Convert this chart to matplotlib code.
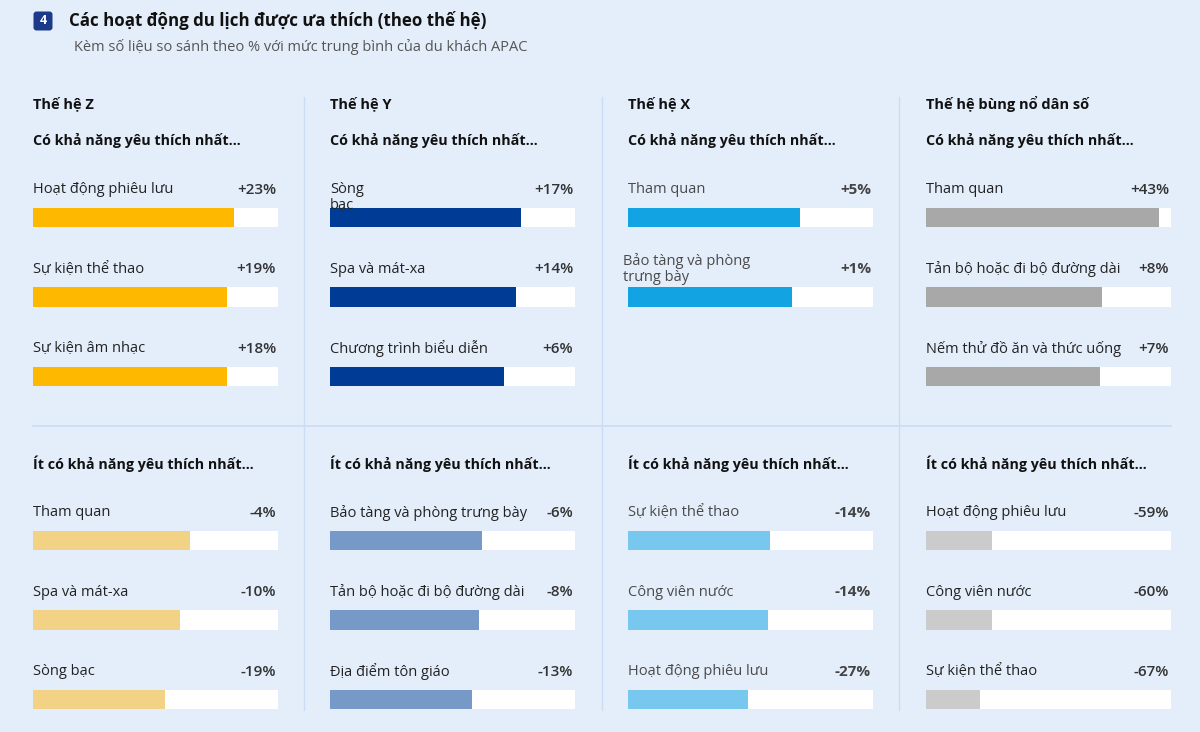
import matplotlib.pyplot as plt
from matplotlib.lines import Line2D
from matplotlib.patches import FancyBboxPatch

# --- data (bar length = share of travellers, diff = vs APAC average) ---
generations = ["Thế hệ Z", "Thế hệ Y", "Thế hệ X", "Thế hệ bùng nổ dân số"]

genz_top_labels = ["Hoạt động phiêu lưu", "Sự kiện thể thao", "Sự kiện âm nhạc"]
genz_top_share = [82, 79, 79]
genz_top_diff = [23, 19, 18]
genz_bot_labels = ["Tham quan", "Spa và mát-xa", "Sòng bạc"]
genz_bot_share = [64, 60, 54]
genz_bot_diff = [-4, -10, -19]

geny_top_labels = ["Sòng\nbạc", "Spa và mát-xa", "Chương trình biểu diễn"]
geny_top_share = [78, 76, 71]
geny_top_diff = [17, 14, 6]
geny_bot_labels = ["Bảo tàng và phòng trưng bày", "Tản bộ hoặc đi bộ đường dài", "Địa điểm tôn giáo"]
geny_bot_share = [62, 61, 58]
geny_bot_diff = [-6, -8, -13]

genx_top_labels = ["Tham quan", "Bảo tàng và phòng\ntrưng bày"]
genx_top_share = [70, 67]
genx_top_diff = [5, 1]
genx_bot_labels = ["Sự kiện thể thao", "Công viên nước", "Hoạt động phiêu lưu"]
genx_bot_share = [58, 57, 49]
genx_bot_diff = [-14, -14, -27]

boom_top_labels = ["Tham quan", "Tản bộ hoặc đi bộ đường dài", "Nếm thử đồ ăn và thức uống"]
boom_top_share = [95, 72, 71]
boom_top_diff = [43, 8, 7]
boom_bot_labels = ["Hoạt động phiêu lưu", "Công viên nước", "Sự kiện thể thao"]
boom_bot_share = [27, 27, 22]
boom_bot_diff = [-59, -60, -67]

# --- style ---
BG = "#E4EEFA"
SEP = "#CADDF4"
TOP_COLORS = ["#FFB800", "#003B95", "#12A3E2", "#A8A8A8"]
BOT_COLORS = ["#F2D386", "#7799C8", "#77C7EE", "#CBCBCB"]
LABEL_COLORS = ["#222222", "#222222", "#4A4A4A", "#222222"]

plt.rcParams['font.family'] = ['Open Sans', 'DejaVu Sans']

W, H = 1200, 732
ROW = 79.6
BAR_H = 19.5 / ROW
TRACK_W = 245
PANEL_LEFT = [33, 330, 628, 926]
TOP_FIRST = 217.5
BOT_FIRST = 540.5
LABEL_OFF = 0.35

LABEL_TWEAKS = {
    "Sòng\nbạc": dict(va="top", dy=-0.10, dx=0),
    "Bảo tàng và phòng\ntrưng bày": dict(va="center", dy=-0.005, dx=-2.0),
}

fig = plt.figure(figsize=(12, 7.32), dpi=100, facecolor=BG)


def fx(px):
    return px / W


def fy(py):
    return 1 - py / H


def draw_panel(left, first_center, labels, shares, diffs, color, label_color, value_color, value_weight):
    ax = fig.add_axes([fx(left), fy(first_center + 2.6 * ROW), TRACK_W / W, 3.35 * ROW / H])
    ax.set_xlim(0, 100)
    ax.set_ylim(2.6, -0.75)
    ax.axis("off")
    ys = list(range(len(labels)))
    ax.barh(ys, [100] * len(ys), height=BAR_H, color="white")
    ax.barh(ys, shares, height=BAR_H, color=color)
    for i, (lab, d) in enumerate(zip(labels, diffs)):
        tw = LABEL_TWEAKS.get(lab, dict(va="center", dy=0, dx=0))
        ax.text(tw["dx"], i - LABEL_OFF + tw["dy"], lab, va=tw["va"], ha="left",
                fontsize=10.5, color=label_color, linespacing=1.15)
        ax.text(99.2, i - LABEL_OFF, f"{d:+d}%", va="center", ha="right",
                fontsize=11, color=value_color, fontweight=value_weight)


# title block
box_ax = fig.add_axes([fx(33), fy(31), 20 / W, 20 / H])
box_ax.set_xlim(0, 20)
box_ax.set_ylim(0, 20)
box_ax.axis("off")
box_ax.add_patch(FancyBboxPatch((0.5, 0.5), 19, 19, boxstyle="round,pad=0,rounding_size=3",
                                fc="#1B3A8A", ec="none"))
box_ax.text(10, 10, "4", color="white", ha="center", va="center", fontsize=9, fontweight="bold")

fig.text(fx(69), fy(21), "Các hoạt động du lịch được ưa thích (theo thế hệ)",
         fontsize=12.2, fontweight="bold", color="#111111", va="center")
fig.text(fx(74), fy(47), "Kèm số liệu so sánh theo % với mức trung bình của du khách APAC",
         fontsize=10.5, color="#555555", va="center")

# separators
for x in [304, 602, 899]:
    fig.add_artist(Line2D([fx(x), fx(x)], [fy(97), fy(710)], color=SEP, lw=1,
                          transform=fig.transFigure))
fig.add_artist(Line2D([fx(33), fx(1171)], [fy(426), fy(426)], color=SEP, lw=1.2,
                      transform=fig.transFigure))

panels = [
    (genz_top_labels, genz_top_share, genz_top_diff, genz_bot_labels, genz_bot_share, genz_bot_diff),
    (geny_top_labels, geny_top_share, geny_top_diff, geny_bot_labels, geny_bot_share, geny_bot_diff),
    (genx_top_labels, genx_top_share, genx_top_diff, genx_bot_labels, genx_bot_share, genx_bot_diff),
    (boom_top_labels, boom_top_share, boom_top_diff, boom_bot_labels, boom_bot_share, boom_bot_diff),
]

for k, (tl, ts, td, bl, bs, bd) in enumerate(panels):
    left = PANEL_LEFT[k]
    fig.text(fx(left), fy(104), generations[k], fontsize=10.5, fontweight="bold",
             color="#111111", va="center")
    fig.text(fx(left), fy(140), "Có khả năng yêu thích nhất…", fontsize=10.3,
             fontweight="bold", color="#111111", va="center")
    fig.text(fx(left), fy(464), "Ít có khả năng yêu thích nhất…", fontsize=10.3,
             fontweight="bold", color="#111111", va="center")
    value_color = "#444444" if k == 2 else "#333333"
    value_weight = "bold" if k == 2 else "semibold"
    draw_panel(left, TOP_FIRST, tl, ts, td, TOP_COLORS[k], LABEL_COLORS[k], value_color, value_weight)
    draw_panel(left, BOT_FIRST, bl, bs, bd, BOT_COLORS[k], LABEL_COLORS[k], value_color, value_weight)

fig.savefig("out.png", dpi=100, facecolor=BG)
